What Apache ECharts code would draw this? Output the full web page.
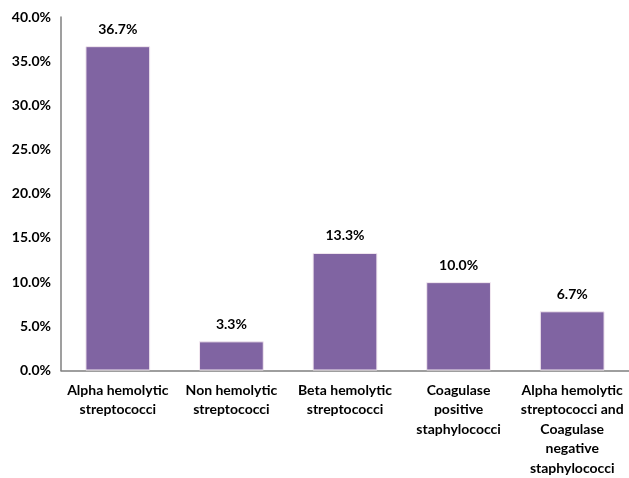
<!DOCTYPE html>
<html>
<head>
<meta charset="utf-8">
<script src="https://cdn.jsdelivr.net/npm/echarts@6/dist/echarts.min.js"></script>
<style>
  html, body { margin: 0; padding: 0; background: #fff; }
  #chart { width: 629px; height: 478px; }
</style>
</head>
<body>
<div id="chart"></div>
<script>
// Isolate categories and their share of samples (%)
const categories = [
  'Alpha hemolytic\nstreptococci',
  'Non hemolytic\nstreptococci',
  'Beta hemolytic\nstreptococci',
  'Coagulase\npositive\nstaphylococci',
  'Alpha hemolytic\nstreptococci and\nCoagulase\nnegative\nstaphylococci'
];
const percentages = [36.7, 3.3, 13.3, 10.0, 6.7];
const yTicks = { min: 0, max: 40, step: 5 };

const FONT = 'Lato, "Open Sans", sans-serif';

const chart = echarts.init(document.getElementById('chart'));
chart.setOption({
  animation: false,
  grid: { left: 61, right: 0, top: 17, bottom: 99, containLabel: false },
  xAxis: {
    type: 'category',
    data: categories,
    axisLine: { show: true, lineStyle: { color: '#7f7f7f', width: 1.5 } },
    axisTick: { show: false },
    axisLabel: {
      interval: 0,
      margin: 10,
      color: '#000',
      fontFamily: FONT,
      fontWeight: 'bold',
      fontSize: 14,
      lineHeight: 19.5
    }
  },
  yAxis: {
    type: 'value',
    min: yTicks.min,
    max: yTicks.max,
    interval: yTicks.step,
    splitLine: { show: false },
    axisLine: { show: true, lineStyle: { color: '#7f7f7f', width: 1.5 } },
    axisTick: { show: false },
    axisLabel: {
      margin: 10,
      color: '#000',
      fontFamily: FONT,
      fontWeight: 'bold',
      fontSize: 14,
      formatter: v => v.toFixed(1) + '%'
    }
  },
  series: [{
    type: 'bar',
    data: percentages,
    barWidth: '57%',
    itemStyle: {
      color: '#8064A2',
      borderColor: '#F2E8F0',
      borderWidth: 1
    },
    label: {
      show: true,
      position: 'top',
      distance: 10,
      color: '#000',
      fontFamily: FONT,
      fontWeight: 'bold',
      fontSize: 14,
      formatter: p => p.value.toFixed(1) + '%'
    }
  }]
});
</script>
</body>
</html>
